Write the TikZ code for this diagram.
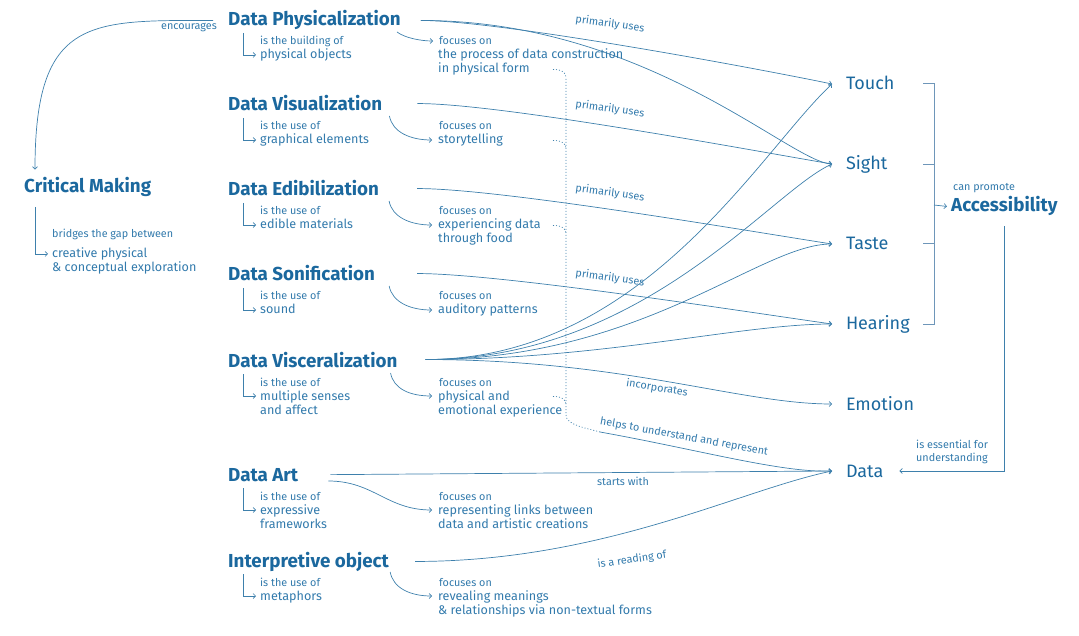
\documentclass[tikz,border=0pt]{standalone}
\usepackage{fontspec}
\setmainfont{Fira Sans}
\usetikzlibrary{arrows.meta}
\definecolor{titleblue}{RGB}{27,104,158}
\definecolor{textblue}{RGB}{50,122,172}
\definecolor{lineblue}{RGB}{62,128,172}
\definecolor{barblue}{RGB}{110,150,185}
\begin{document}
\begin{tikzpicture}[x=1pt,y=-1pt,
  >={Straight Barb[length=2.5pt,width=5pt]},
  title/.style={anchor=base west,inner sep=0pt,text=titleblue,font=\bfseries\fontsize{18.8}{22}\selectfont},
  sense/.style={anchor=base west,inner sep=0pt,outer xsep=14pt,text=titleblue,font=\fontsize{18}{21}\selectfont},
  desc/.style={anchor=base west,inner sep=0pt,text=textblue,font=\fontsize{12.6}{15}\selectfont},
  note/.style={anchor=base west,inner sep=0pt,text=textblue,font=\fontsize{10.8}{13}\selectfont},
  lbl/.style={inner sep=0pt,text=textblue,font=\fontsize{10.8}{13}\selectfont},
  link/.style={draw=lineblue,line width=0.7pt,->},
  trail/.style={draw=lineblue,line width=0.7pt,dash pattern=on 1pt off 2pt},
  bar/.style={draw=barblue,line width=1pt}]
\useasboundingbox (0,0) rectangle (1079,636);

% the seven forms of data representation
\foreach \n/\y/\t/\a/\wa/\wb/\fa/\fb in {
  phys/26/Data Physicalization/is the building of/physical objects//the process of data construction/in physical form,
  vis/111/Data Visualization/is the use of/graphical elements//storytelling/,
  edib/196/Data Edibilization/is the use of/edible materials//experiencing data/through food,
  son/281/Data Sonification/is the use of/sound//auditory patterns/,
  visc/367/Data Visceralization/is the use of/multiple senses/and affect/physical and/emotional experience,
  art/481/Data Art/is the use of/expressive/frameworks/representing links between/data and artistic creations,
  interp/567/Interpretive object/is the use of/metaphors//revealing meanings/\& relationships via non-textual forms}{
\node[title] (\n) at (228,\y) {\t};
\node[note] (\n is) at (260,\y+19) {\a};
\node[desc] (\n w1) at (260,\y+33) {\wa};
\node[desc] (\n w2) at (260,\y+47) {\wb};
\node[note] (\n fl) at (439,\y+19) {focuses on};
\node[desc] (\n f1) at (438,\y+33) {\fa};
\node[desc] (\n f2) at (438,\y+47) {\fb};
\draw[link] ([shift={(15,7)}]\n.base west) |- ([shift={(-4,-4)}]\n w1.base west);
}

% senses and outcomes
\foreach \s/\y/\t in {touch/90/Touch, sight/170/Sight, taste/250/Taste, hearing/330/Hearing, emotion/410/Emotion, data/477/Data}{
\node[sense] (\s) at (832,\y) {\t};
\coordinate (\s in) at ([yshift=6pt]\s.base west);
}
\node[title] (access) at (951,212) {Accessibility};
\node[note] (promote) at (953,191) {can promote};

% critical making
\node[title] (crit) at (24,193) {Critical Making};
\node[note] (critis) at (52,238) {bridges the gap between};
\node[desc] (critw1) at (52,258) {creative physical};
\node[desc] (critw2) at (52,272) {\& conceptual exploration};
\draw[link] ([shift={(11,14)}]crit.base west) |- ([shift={(-4,-4)}]critw1.base west);
\draw[link] ([xshift=-15pt]phys.west) .. controls +(-123,0) and +(0,-153) .. ([shift={(11,-8)}]crit.north west);
\node[lbl,anchor=base east] (encourage) at (217,30) {encourages};

% focuses on
\draw[link] ([shift={(-4,6)}]phys.base east) .. controls +(8,6) and +(-12,0) .. ([shift={(-6,-4)}]physfl.base west);
\draw[link] ([shift={(7,5)}]vis.base east) .. controls +(3,16) and +(-22,0) .. ([shift={(-6,-4)}]visf1.base west);
\draw[link] ([shift={(10,5)}]edib.base east) .. controls +(3,16) and +(-22,0) .. ([shift={(-6,-4)}]edibf1.base west);
\draw[link] ([shift={(14,5)}]son.base east) .. controls +(3,16) and +(-22,0) .. ([shift={(-6,-4)}]sonf1.base west);
\draw[link] ([shift={(-7,6)}]visc.base east) .. controls +(3,16) and +(-22,0) .. ([shift={(-6,-4)}]viscf1.base west);
\draw[link] ([shift={(30,0)}]art.base east) .. controls +(45,0) and +(-45,0) .. ([shift={(-6,-4)}]artf1.base west);
\draw[link] ([shift={(1,5)}]interp.base east) .. controls +(3,16) and +(-22,0) .. ([shift={(-6,-4)}]interpf1.base west);

% primarily uses
\draw[link] ([xshift=20pt]phys.east) .. controls +(75,0) and +(-92,-19) .. (touchin);
\draw[link] ([xshift=20pt]phys.east) .. controls +(225,0) and +(-42,-2) .. (sightin);
\draw[link] ([xshift=35pt]vis.east) .. controls +(85,0) and +(-72,-12) .. (sightin);
\draw[link] ([xshift=38pt]edib.east) .. controls +(85,0) and +(-72,-11) .. (tastein);
\draw[link] ([xshift=42pt]son.east) .. controls +(85,0) and +(-72,-10) .. (hearingin);
\foreach \y in {24,109,193,278}
\node[lbl,rotate=-8] at (610,\y) {primarily uses};
\foreach \s/\a/\b/\c in {touch/218/-72/67, sight/218/-62/28, taste/218/-72/0, hearing/178/-92/0, emotion/198/-92/0}
\draw[link] ([xshift=28pt]visc.east) .. controls +(\a,0) and +(\b,\c) .. (\s in);
\node[lbl,rotate=-9] (incorp) at (657,388) {incorporates};

% towards data
\coordinate (dots) at (553,0);
\coordinate (trunktop) at (566,79);
\coordinate (trunkbot) at (566,415);
\coordinate (bend) at (600,432);
\foreach \b in {physf2, visf1, edibf1, viscf1}
\draw[trail] (\b -| dots) .. controls +(9,0) and +(0,-5) .. ++(13,8);
\draw[trail] (trunktop) -- (trunkbot) .. controls +(0,10) and +(-14,-4) .. (bend);
\draw[link] (bend) .. controls +(100,18) and +(-50,2) .. (datain);
\node[lbl,rotate=-10.5] (helps) at (684,437) {helps to understand and represent};
\draw[link] ([xshift=32pt]art.east) -- (datain);
\node[lbl] (starts) at (623,481) {starts with};
\draw[link] ([xshift=26pt]interp.east) .. controls +(188,0) and +(-92,19) .. (datain);
\node[lbl,rotate=8] (reading) at (632,560) {is a reading of};

% accessibility
\coordinate (brkin) at (923,205);
\coordinate (brk) at (934,205);
\foreach \s in {touch,sight,taste,hearing}
\draw[bar] (\s -| brkin) -- (\s -| brk);
\draw[bar] (touch -| brk) -- (hearing -| brk);
\draw[link] (brk) -- ([xshift=-4pt]access.west);
\draw[link] ([yshift=-10pt]access.south) |- ([xshift=2pt]data.east);
\node[lbl,anchor=north west,align=left] (essential) at (916,440) {is essential for\\understanding};
\end{tikzpicture}
\end{document}
